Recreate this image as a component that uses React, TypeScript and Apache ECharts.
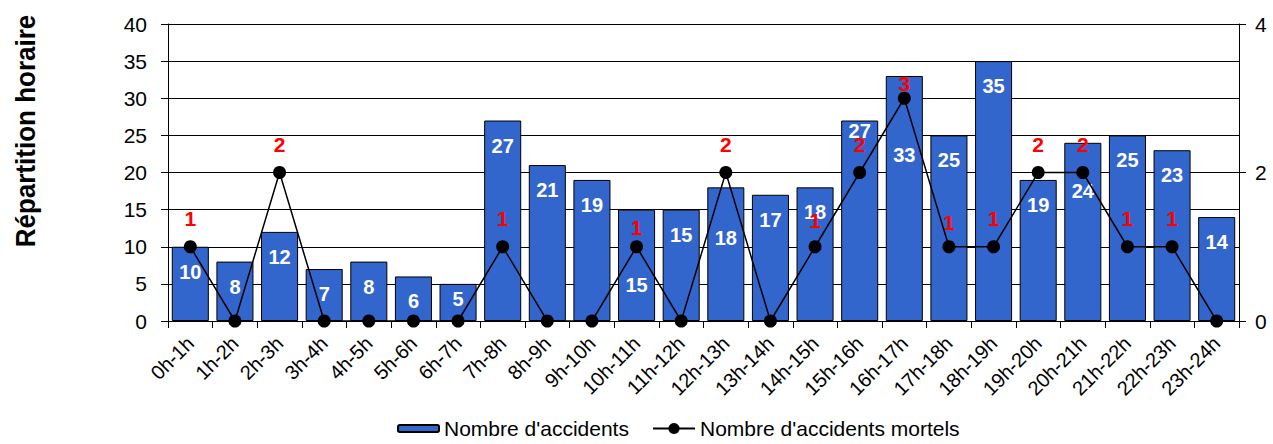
import React, { useEffect, useRef } from "react";
import * as echarts from "echarts";

const categories = [
  "0h-1h", "1h-2h", "2h-3h", "3h-4h", "4h-5h", "5h-6h", "6h-7h", "7h-8h",
  "8h-9h", "9h-10h", "10h-11h", "11h-12h", "12h-13h", "13h-14h", "14h-15h",
  "15h-16h", "16h-17h", "17h-18h", "18h-19h", "19h-20h", "20h-21h", "21h-22h",
  "22h-23h", "23h-24h",
];
const accidents = [10, 8, 12, 7, 8, 6, 5, 27, 21, 19, 15, 15, 18, 17, 18, 27, 33, 25, 35, 19, 24, 25, 23, 14];
const mortels = [1, 0, 2, 0, 0, 0, 0, 1, 0, 0, 1, 0, 2, 0, 1, 2, 3, 1, 1, 2, 2, 1, 1, 0];

const leftTicks = { min: 0, max: 40, interval: 5 };
const rightTicks = { min: 0, max: 4, interval: 2 };

// label nudges (pixels) replicating the reference's label placement
const barLabelNudge: Record<number, number> = { 6: -10, 10: 50, 12: 26, 15: -15, 16: 54, 20: 23 };
const lineLabelNudge: Record<number, number> = { 10: 9, 14: 2, 16: 13, 17: 4 };

const FONT = "'Liberation Sans', Arial, sans-serif";
const S1 = "Nombre d'accidents";
const S2 = "Nombre d'accidents mortels";

export default function App() {
  const ref = useRef<HTMLDivElement>(null);
  useEffect(() => {
    document.body.style.margin = "0";
    if (!ref.current) return;
    const chart = echarts.init(ref.current, null, { renderer: "svg" });
    const legendText = { fontSize: 21, color: "#000", fontFamily: FONT };
    chart.setOption({
      animation: false,
      textStyle: { fontFamily: FONT },
      grid: { left: 168, right: 34, top: 24, bottom: 123 },
      legend: [
        {
          data: [S1],
          left: 392,
          top: 416,
          padding: [2, 5, 2, 5],
          itemWidth: 41,
          itemHeight: 7,
          textStyle: legendText,
        },
        {
          data: [S2],
          left: 647,
          top: 416,
          padding: [2, 5, 2, 5],
          itemWidth: 42,
          itemHeight: 14,
          textStyle: legendText,
        },
      ],
      graphic: [
        {
          type: "text",
          x: 26,
          y: 131,
          rotation: Math.PI / 2,
          scaleY: 1.08,
          style: {
            text: "Répartition horaire",
            font: `bold 26px ${FONT}`,
            fill: "#000",
            align: "center",
            verticalAlign: "middle",
          },
        },
      ],
      xAxis: {
        type: "category",
        data: categories,
        axisLine: { lineStyle: { color: "#000", width: 1 } },
        axisTick: { show: true, interval: 0, length: 7, lineStyle: { color: "#000" } },
        axisLabel: {
          interval: 0,
          rotate: 45,
          fontSize: 20,
          color: "#000",
          margin: 19,
          padding: [22, 0, 0, 0],
          fontFamily: FONT,
        },
      },
      yAxis: [
        {
          type: "value",
          ...leftTicks,
          axisLine: { show: true, lineStyle: { color: "#000" } },
          axisTick: { show: true, length: 7, lineStyle: { color: "#000" } },
          axisLabel: { fontSize: 21, color: "#000", margin: 21, fontFamily: FONT },
          splitLine: { show: true, lineStyle: { color: "#000", width: 1 } },
        },
        {
          type: "value",
          ...rightTicks,
          position: "right",
          axisLine: { show: true, lineStyle: { color: "#000" } },
          axisTick: { show: true, length: 7, lineStyle: { color: "#000" } },
          axisLabel: { fontSize: 21, color: "#000", margin: 16, fontFamily: FONT },
          splitLine: { show: false },
        },
      ],
      series: [
        {
          name: S1,
          type: "bar",
          yAxisIndex: 0,
          barCategoryGap: "17%",
          itemStyle: { color: "#3366CC", borderColor: "#000", borderWidth: 1 },
          label: {
            show: true,
            position: "insideTop",
            distance: 15,
            color: "#fff",
            fontWeight: "bold",
            fontSize: 20,
            fontFamily: FONT,
          },
          data: accidents.map((v, i) => ({
            value: v,
            label: { offset: [0, barLabelNudge[i] || 0] },
          })),
          z: 2,
        },
        {
          name: S2,
          type: "line",
          yAxisIndex: 1,
          symbol: "circle",
          symbolSize: 13,
          lineStyle: { color: "#000", width: 1.5 },
          itemStyle: { color: "#000" },
          label: {
            show: true,
            position: "top",
            distance: 11,
            color: "#FF0000",
            fontWeight: "bold",
            fontSize: 21,
            fontFamily: FONT,
            formatter: (p: any) => (p.value === 0 ? "" : String(p.value)),
          },
          data: mortels.map((v, i) => ({
            value: v,
            label: { offset: [0, lineLabelNudge[i] || 0] },
          })),
          z: 3,
        },
      ],
    });
    return () => chart.dispose();
  }, []);
  return <div ref={ref} style={{ width: 1273, height: 444 }} />;
}
